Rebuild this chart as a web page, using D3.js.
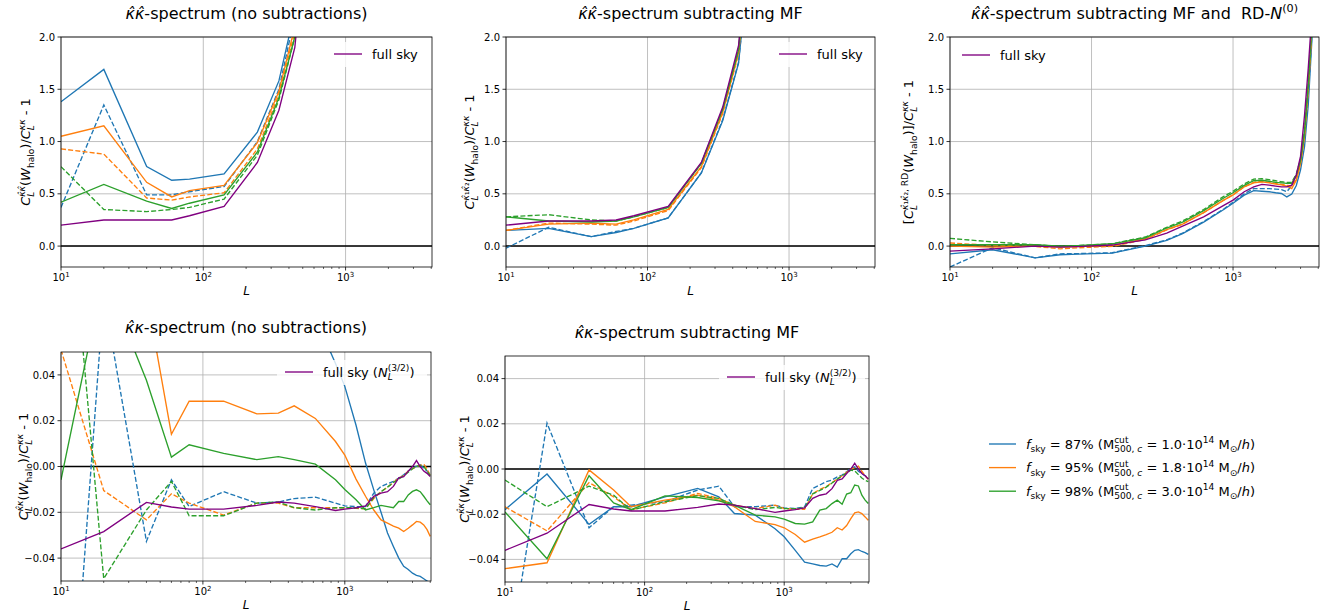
<!DOCTYPE html>
<html>
<head>
<meta charset="utf-8">
<script src="https://cdn.jsdelivr.net/npm/d3@7"></script>
<style>
  body { margin: 0; background: #fff; }
  svg { font-family: 'DejaVu Sans', sans-serif; }
</style>
</head>
<body>
<svg id="chart" width="1332" height="616"></svg>
<script>
// multipole bins
const Llow = [10, 20, 40, 60, 80, 140, 240, 340, 440, 620];
const Lall = [10, 20, 40, 60, 80, 140, 240, 340, 440, 620, 860, 1000, 1200, 1400, 1600,
              1800, 2000, 2200, 2400, 2600, 2800, 3000, 3200, 3400, 3600, 3800, 4000];

// top-left: khat-khat, no subtractions
const p1Full = [0.20, 0.25, 0.25, 0.25, 0.29, 0.38, 0.80, 1.30, 1.90, 4.0];
const p1Sky87 = [1.38, 1.69, 0.76, 0.63, 0.64, 0.69, 1.09, 1.58, 2.25, 4.6];
const p1Sky87d = [0.37, 1.35, 0.49, 0.49, 0.52, 0.57, 1.00, 1.50, 2.20, 4.5];
const p1Sky95 = [1.05, 1.15, 0.61, 0.47, 0.53, 0.58, 0.99, 1.48, 2.10, 4.4];
const p1Sky95d = [0.93, 0.88, 0.46, 0.44, 0.47, 0.51, 0.93, 1.45, 2.05, 4.3];
const p1Sky98 = [0.42, 0.59, 0.43, 0.36, 0.41, 0.49, 0.90, 1.42, 2.00, 4.2];
const p1Sky98d = [0.76, 0.35, 0.33, 0.35, 0.37, 0.45, 0.87, 1.40, 2.00, 4.2];

// top-middle: subtracting MF
const p2Full = [0.20, 0.24, 0.24, 0.25, 0.29, 0.38, 0.80, 1.33, 1.92, 4.0];
const p2Sky87 = [0.15, 0.17, 0.09, 0.13, 0.17, 0.27, 0.70, 1.20, 1.75, 3.8];
const p2Sky87d = [-0.02, 0.18, 0.09, 0.14, 0.17, 0.27, 0.70, 1.21, 1.76, 3.8];
const p2Sky95 = [0.15, 0.21, 0.22, 0.21, 0.25, 0.35, 0.76, 1.28, 1.85, 3.9];
const p2Sky95d = [0.15, 0.22, 0.21, 0.20, 0.24, 0.34, 0.75, 1.27, 1.84, 3.9];
const p2Sky98 = [0.28, 0.24, 0.23, 0.24, 0.28, 0.37, 0.79, 1.31, 1.88, 4.0];
const p2Sky98d = [0.28, 0.30, 0.25, 0.24, 0.28, 0.37, 0.79, 1.31, 1.88, 4.0];

// top-right: subtracting MF and RD-N0
const p3Full = [-0.048, -0.026, 0.0, -0.01, -0.005, 0.01, 0.06, 0.125, 0.19, 0.28, 0.39, 0.44, 0.52, 0.567,
  0.59, 0.583, 0.574, 0.567, 0.567, 0.583, 0.68, 0.86, 1.25, 1.7, 2.2, 2.9, 3.6];
const p3Sky87 = [-0.074, -0.035, -0.112, -0.083, -0.077, -0.067, 0.0, 0.055, 0.12, 0.23, 0.35, 0.41, 0.487, 0.53,
  0.525, 0.52, 0.51, 0.503, 0.47, 0.497, 0.58, 0.73, 0.95, 1.35, 1.95, 2.6, 3.3];
const p3Sky87d = [-0.2, -0.016, -0.112, -0.074, -0.072, -0.064, 0.005, 0.06, 0.125, 0.235, 0.355, 0.42, 0.5, 0.55,
  0.55, 0.55, 0.545, 0.54, 0.52, 0.58, 0.65, 0.8, 1.05, 1.45, 2.0, 2.7, 3.4];
const p3Sky95 = [0.0, -0.01, 0.0, -0.01, -0.005, 0.006, 0.07, 0.157, 0.21, 0.32, 0.44, 0.49, 0.567, 0.605,
  0.615, 0.605, 0.593, 0.585, 0.574, 0.55, 0.63, 0.79, 1.05, 1.5, 2.05, 2.75, 3.45];
const p3Sky95d = [0.03, 0.006, -0.003, -0.026, -0.016, -0.003, 0.064, 0.155, 0.21, 0.32, 0.44, 0.49, 0.567, 0.61,
  0.62, 0.61, 0.6, 0.59, 0.58, 0.575, 0.64, 0.8, 1.07, 1.5, 2.05, 2.75, 3.45];
const p3Sky98 = [0.013, 0.013, 0.013, 0.0, 0.005, 0.022, 0.08, 0.173, 0.23, 0.34, 0.46, 0.51, 0.58, 0.625,
  0.63, 0.62, 0.61, 0.605, 0.6, 0.6, 0.68, 0.82, 1.1, 1.55, 2.1, 2.8, 3.5];
const p3Sky98d = [0.074, 0.04, 0.013, -0.003, 0.005, 0.022, 0.087, 0.18, 0.24, 0.35, 0.475, 0.525, 0.595, 0.64,
  0.645, 0.635, 0.625, 0.615, 0.61, 0.61, 0.69, 0.83, 1.1, 1.55, 2.1, 2.8, 3.5];

// bottom row: khat-kappa cross spectrum, full sky with N^(3/2)
const kkFull = [-0.036, -0.0284, -0.0157, -0.0177, -0.0186, -0.0186, -0.017, -0.0155, -0.016, -0.0175, -0.0192,
  -0.0186, -0.018, -0.0172, -0.013, -0.0116, -0.011, -0.0087, -0.005, -0.0044, -0.002, 0.0, 0.0026, 0.0,
  -0.002, -0.003, -0.0044];

// bottom-left: no subtractions
const p4Sky87 = [0.5, 0.4, 0.3, 0.25, 0.22, 0.2, 0.15, 0.12, 0.1, 0.065, 0.045, 0.035, 0.018, 0.0015, -0.0102,
  -0.02, -0.029, -0.0349, -0.040, -0.0436, -0.045, -0.0466, -0.0475, -0.048, -0.049, -0.050, -0.051];
const p4Sky87d = [-0.18, 0.075, -0.0327, -0.0058, -0.0175, -0.011, -0.016, -0.0155, -0.014, -0.0134, -0.016,
  -0.0172, -0.0175, -0.0175, -0.0116, -0.0087, -0.0075, -0.0065, -0.005, -0.0036, -0.002, -0.0007, 0.0,
  0.0007, -0.0007, -0.002, -0.0036];
const p4Sky95 = [0.15, 0.12, 0.0753, 0.0141, 0.0285, 0.0285, 0.023, 0.0233, 0.0265, 0.021, 0.0109, 0.005,
  -0.0055, -0.013, -0.019, -0.0233, -0.0247, -0.026, -0.0269, -0.0284, -0.027, -0.0255, -0.024, -0.0243,
  -0.0255, -0.0276, -0.0305];
const p4Sky95d = [0.051, -0.0105, -0.0233, -0.0119, -0.016, -0.0212, -0.016, -0.016, -0.018, -0.018, -0.018,
  -0.018, -0.0183, -0.0185, -0.014, -0.011, -0.009, -0.007, -0.005, -0.004, -0.002, -0.001, 0.0, 0.0005,
  0.001, -0.001, -0.004];
const p4Sky98 = [-0.0058, 0.084, 0.0377, 0.0041, 0.0095, 0.0057, 0.003, 0.0043, 0.003, 0.001, -0.0058, -0.010,
  -0.0145, -0.019, -0.018, -0.017, -0.0175, -0.018, -0.0153, -0.0153, -0.0124, -0.0109, -0.0102, -0.011,
  -0.013, -0.015, -0.0167];
const p4Sky98d = [0.157, -0.049, -0.019, -0.0065, -0.0215, -0.0215, -0.016, -0.0155, -0.018, -0.019, -0.018,
  -0.018, -0.018, -0.0185, -0.0135, -0.011, -0.009, -0.007, -0.0055, -0.004, -0.0025, -0.001, 0.0, 0.0005,
  0.0, -0.002, -0.004];

// bottom-middle: subtracting MF
const p5Sky87 = [-0.018, -0.0022, -0.0245, -0.0167, -0.0167, -0.0123, -0.0086, -0.0123, -0.0197, -0.0204,
  -0.0264, -0.030, -0.036, -0.0412, -0.042, -0.0427, -0.043, -0.042, -0.0434, -0.0397, -0.0397, -0.0375,
  -0.036, -0.0357, -0.0365, -0.037, -0.0378];
const p5Sky87d = [-0.0947, 0.0203, -0.026, -0.0167, -0.016, -0.0145, -0.0093, -0.0076, -0.0167, -0.0167,
  -0.016, -0.0172, -0.0175, -0.0167, -0.0086, -0.0071, -0.0056, -0.0049, -0.0035, -0.0027, -0.0012, 0.0003,
  0.001, -0.001, -0.002, -0.003, -0.004];
const p5Sky95 = [-0.0441, -0.0415, -0.0004, -0.0093, -0.0167, -0.0138, -0.0116, -0.0138, -0.0167, -0.0232,
  -0.0246, -0.026, -0.029, -0.0324, -0.031, -0.030, -0.029, -0.028, -0.026, -0.027, -0.025, -0.022, -0.0194,
  -0.019, -0.0197, -0.0212, -0.0227];
const p5Sky95d = [-0.0167, -0.0274, -0.006, -0.0123, -0.018, -0.015, -0.0108, -0.013, -0.016, -0.0175, -0.016,
  -0.0175, -0.0178, -0.0178, -0.011, -0.009, -0.0078, -0.006, -0.0045, -0.003, -0.0015, 0.0, 0.0005, 0.0013,
  -0.001, -0.003, -0.0045];
const p5Sky98 = [-0.019, -0.0397, -0.003, -0.015, -0.018, -0.0119, -0.0126, -0.0141, -0.016, -0.0204, -0.0212,
  -0.0222, -0.0241, -0.0244, -0.0234, -0.0182, -0.0175, -0.0153, -0.0138, -0.0156, -0.0111, -0.0105, -0.0071,
  -0.0075, -0.0116, -0.0138, -0.0153];
const p5Sky98d = [-0.0049, -0.0167, -0.0076, -0.0116, -0.0182, -0.0145, -0.0118, -0.013, -0.016, -0.018,
  -0.017, -0.0175, -0.0175, -0.0172, -0.011, -0.0095, -0.008, -0.0062, -0.0045, -0.003, -0.0018, -0.0005,
  -0.0008, -0.0025, -0.004, -0.005, -0.0056];

const skyLabels = ['87%', '95%', '98%'];
const mcutLabels = ['1.0', '1.8', '3.0'];
const ticksBig = [0, 0.5, 1.0, 1.5, 2.0];
const ticksSmall = [-0.04, -0.02, 0.0, 0.02, 0.04];

const colors = { c87: '#1f77b4', c95: '#ff7f0e', c98: '#2ca02c', full: 'purple' };
const LW = 1.35;

const svg = d3.select('#chart');

// little helper for math-ish text with sub/superscripts
const N = t => ({ t });
const I = t => ({ t, i: true });
const SUP = (t, it, under) => ({ t, v: -0.42, sc: 0.7, i: it, under });
const SUB = (t, it, under) => ({ t, v: 0.28, sc: 0.7, i: it, under });

function rich(sel, parts, size) {
  let cur = 0, prevLen = 0, pending = 0;
  parts.forEach(p => {
    const target = (p.v || 0) * size;
    const ts = sel.append('tspan').text(p.t)
      .attr('font-size', size * (p.sc || 1))
      .attr('dy', target - cur);
    if (p.i) ts.attr('font-style', 'italic');
    let dx = 0;
    if (p.under) dx = -prevLen;
    else if (pending > 0) { dx = pending; pending = 0; }
    ts.attr('dx', dx);
    const len = ts.node().getComputedTextLength();
    if (p.under) pending = Math.max(0, prevLen - len);
    prevLen = len;
    cur = target;
  });
}

const yLabHatHat = [I('C'), SUB('L', true), SUP('κ̂κ̂', true, true), N('('), I('W'), SUB('halo'), N(')/'),
  I('C'), SUB('L', true), SUP('κκ', true, true), N(' - 1')];
const yLabK1K2 = [I('C'), SUB('L', true), SUP('κ̂', true, true), SUP('₁'), SUP('κ̂', true), SUP('₂'),
  N('('), I('W'), SUB('halo'), N(')/'), I('C'), SUB('L', true), SUP('κκ', true, true), N(' - 1')];
const yLabRD = [N('['), I('C'), SUB('L', true), SUP('κ̂', true, true), SUP('₁'), SUP('κ̂', true), SUP('₂, RD'),
  N('('), I('W'), SUB('halo'), N(')]/'), I('C'), SUB('L', true), SUP('κκ', true, true), N(' - 1')];
const yLabCross = [I('C'), SUB('L', true), SUP('κ̂κ', true, true), N('('), I('W'), SUB('halo'), N(')/'),
  I('C'), SUB('L', true), SUP('κκ', true, true), N(' - 1')];

const fullLeg = [N('full sky')];
const fullLegN = [N('full sky ('), I('N'), SUB('L', true), SUP('(3/2)', false, true), N(')')];

function sky(a, b, c, d, e, f) {
  return [
    { v: a, color: colors.c87 }, { v: b, color: colors.c87, dash: true },
    { v: c, color: colors.c95 }, { v: d, color: colors.c95, dash: true },
    { v: e, color: colors.c98 }, { v: f, color: colors.c98, dash: true }
  ];
}

const panels = [
  { box: [61, 37, 432, 267], L: Llow, y: [-0.2, 2.0], ticks: ticksBig, fmt: '.1f',
    series: sky(p1Sky87, p1Sky87d, p1Sky95, p1Sky95d, p1Sky98, p1Sky98d), full: p1Full,
    title: [I('κ̂κ̂'), N('-spectrum (no subtractions)')], titleY: 19,
    ylab: yLabHatHat, ylabX: 30, leg: { x: 334, y: 54, w: 102, parts: fullLeg } },
  { box: [506, 37, 875, 267], L: Llow, y: [-0.2, 2.0], ticks: ticksBig, fmt: '.1f',
    series: sky(p2Sky87, p2Sky87d, p2Sky95, p2Sky95d, p2Sky98, p2Sky98d), full: p2Full,
    title: [I('κ̂κ̂'), N('-spectrum subtracting MF')], titleY: 19,
    ylab: yLabK1K2, ylabX: 474, leg: { x: 779, y: 54, w: 100, parts: fullLeg } },
  { box: [950, 37, 1319, 267], L: Lall, y: [-0.2, 2.0], ticks: ticksBig, fmt: '.1f',
    series: sky(p3Sky87, p3Sky87d, p3Sky95, p3Sky95d, p3Sky98, p3Sky98d), full: p3Full,
    title: [I('κ̂κ̂'), N('-spectrum subtracting MF and  RD-'), I('N'), SUP('(0)')], titleY: 19,
    ylab: yLabRD, ylabX: 913, leg: { x: 962, y: 55, w: 100, parts: fullLeg } },
  { box: [61, 352, 431, 581], L: Lall, y: [-0.05, 0.05], ticks: ticksSmall, fmt: '.2f',
    series: sky(p4Sky87, p4Sky87d, p4Sky95, p4Sky95d, p4Sky98, p4Sky98d), full: kkFull,
    title: [I('κ̂κ'), N('-spectrum (no subtractions)')], titleY: 333,
    ylab: yLabCross, ylabX: 28, leg: { x: 285, y: 372, w: 150, parts: fullLegN } },
  { box: [505, 356, 869, 582], L: Lall, y: [-0.05, 0.05], ticks: ticksSmall, fmt: '.2f',
    series: sky(p5Sky87, p5Sky87d, p5Sky95, p5Sky95d, p5Sky98, p5Sky98d), full: kkFull,
    title: [I('κ̂κ'), N('-spectrum subtracting MF')], titleY: 338,
    ylab: yLabCross, ylabX: 469, leg: { x: 727, y: 377, w: 146, parts: fullLegN } }
];

const majors = [10, 100, 1000];
const minors = [];
[10, 100, 1000].forEach(d => { for (let k = 2; k <= 9; k++) if (d * k <= 4050) minors.push(d * k); });

panels.forEach((p, pi) => {
  const [x0, y0, x1, y1] = p.box;
  const x = d3.scaleLog().domain([10, 4050]).range([x0, x1]);
  const y = d3.scaleLinear().domain(p.y).range([y1, y0]);
  const g = svg.append('g');

  // grid
  g.append('g').selectAll('line').data(majors).join('line')
    .attr('x1', d => x(d)).attr('x2', d => x(d)).attr('y1', y0).attr('y2', y1)
    .attr('stroke', '#b0b0b0').attr('stroke-width', 0.8);
  g.append('g').selectAll('line').data(p.ticks).join('line')
    .attr('x1', x0).attr('x2', x1).attr('y1', d => y(d)).attr('y2', d => y(d))
    .attr('stroke', '#b0b0b0').attr('stroke-width', 0.8);

  const clipId = 'clip' + pi;
  svg.append('clipPath').attr('id', clipId).append('rect')
    .attr('x', x0).attr('y', y0).attr('width', x1 - x0).attr('height', y1 - y0);
  const plot = g.append('g').attr('clip-path', `url(#${clipId})`);

  plot.append('line').attr('x1', x0).attr('x2', x1).attr('y1', y(0)).attr('y2', y(0))
    .attr('stroke', '#000').attr('stroke-width', 1.5);

  const line = d3.line().x((d, i) => x(p.L[i])).y(d => y(d));
  p.series.forEach(s => {
    plot.append('path').attr('d', line(s.v)).attr('fill', 'none')
      .attr('stroke', s.color).attr('stroke-width', LW)
      .attr('stroke-dasharray', s.dash ? '5,2.2' : null);
  });
  plot.append('path').attr('d', line(p.full)).attr('fill', 'none')
    .attr('stroke', colors.full).attr('stroke-width', LW);

  // frame
  g.append('rect').attr('x', x0).attr('y', y0).attr('width', x1 - x0).attr('height', y1 - y0)
    .attr('fill', 'none').attr('stroke', '#000').attr('stroke-width', 0.8);

  // x ticks
  g.append('g').selectAll('line').data(majors).join('line')
    .attr('x1', d => x(d)).attr('x2', d => x(d)).attr('y1', y1).attr('y2', y1 + 3.5)
    .attr('stroke', '#000').attr('stroke-width', 0.8);
  g.append('g').selectAll('line').data(minors).join('line')
    .attr('x1', d => x(d)).attr('x2', d => x(d)).attr('y1', y1).attr('y2', y1 + 2)
    .attr('stroke', '#000').attr('stroke-width', 0.6);
  majors.forEach((d, i) => {
    const t = g.append('text').attr('x', x(d)).attr('y', y1 + 14)
      .attr('text-anchor', 'middle').attr('font-size', 10);
    rich(t, [N('10'), SUP(String(i + 1))], 10);
  });

  // y ticks
  g.append('g').selectAll('line').data(p.ticks).join('line')
    .attr('x1', x0 - 3.5).attr('x2', x0).attr('y1', d => y(d)).attr('y2', d => y(d))
    .attr('stroke', '#000').attr('stroke-width', 0.8);
  g.append('g').selectAll('text').data(p.ticks).join('text')
    .attr('x', x0 - 6).attr('y', d => y(d) + 3.6).attr('text-anchor', 'end')
    .attr('font-size', 10).text(d => d3.format(p.fmt)(d));

  // labels
  g.append('text').attr('x', (x0 + x1) / 2).attr('y', y1 + 28).attr('text-anchor', 'middle')
    .attr('font-size', 12).attr('font-style', 'italic').text('L');
  const yl = g.append('text').attr('text-anchor', 'middle')
    .attr('transform', `translate(${p.ylabX},${(y0 + y1) / 2}) rotate(-90)`).attr('font-size', 13);
  rich(yl, p.ylab, 13);
  const tt = g.append('text').attr('x', (x0 + x1) / 2).attr('y', p.titleY)
    .attr('text-anchor', 'middle').attr('font-size', 16).style('white-space', 'pre');
  rich(tt, p.title, 16);

  // full sky legend
  const lg = g.append('g');
  lg.append('rect').attr('x', p.leg.x - 8).attr('y', p.leg.y - 12).attr('width', p.leg.w)
    .attr('height', 25).attr('rx', 3).attr('fill', '#fff').attr('opacity', 0.8);
  lg.append('line').attr('x1', p.leg.x).attr('x2', p.leg.x + 28).attr('y1', p.leg.y).attr('y2', p.leg.y)
    .attr('stroke', colors.full).attr('stroke-width', LW);
  const lt = lg.append('text').attr('x', p.leg.x + 38).attr('y', p.leg.y + 4.5).attr('font-size', 13);
  rich(lt, p.leg.parts, 13);
});

// f_sky legend, bottom right
const legColors = [colors.c87, colors.c95, colors.c98];
skyLabels.forEach((lab, i) => {
  const yy = 444 + i * 23.6;
  svg.append('line').attr('x1', 989).attr('x2', 1016).attr('y1', yy).attr('y2', yy)
    .attr('stroke', legColors[i]).attr('stroke-width', LW);
  const t = svg.append('text').attr('x', 1026).attr('y', yy + 4.5).attr('font-size', 13);
  rich(t, [I('f'), SUB('sky'), N(' = ' + lab + ' (M'), SUP('cut'), SUB('500, ', false, true), SUB('c', true),
    N(' = ' + mcutLabels[i] + '·10'), SUP('14'), N(' M'), SUB('⊙'), N('/'), I('h'), N(')')], 13);
});
</script>
</body>
</html>
